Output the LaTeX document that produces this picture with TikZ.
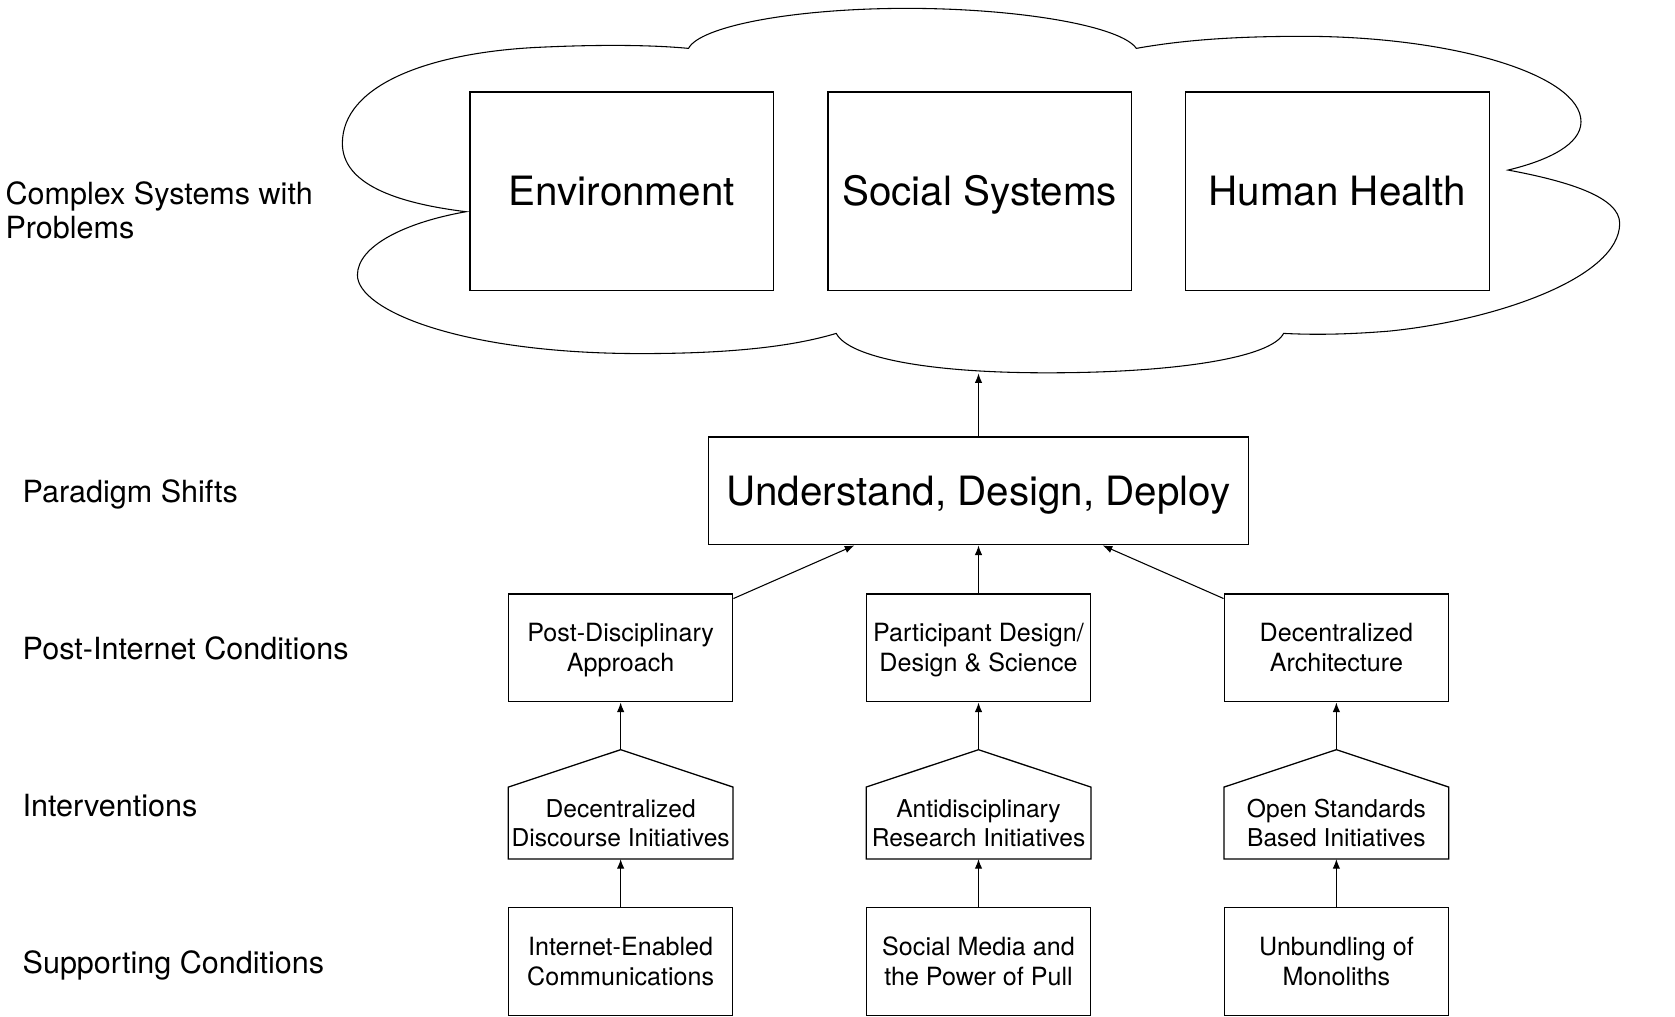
\documentclass[tikz,border=0pt]{standalone}
\usepackage{fontspec}
\setmainfont{TeX Gyre Heros}
\usetikzlibrary{arrows.meta,calc}
% two centred lines, visually centred (cap top to last baseline)
\newcommand{\twolines}[2]{\rule{0pt}{22.9pt}#1\\#2\rule[-6pt]{0pt}{6pt}}
\begin{document}
\begin{tikzpicture}[x=1pt,y=-1pt,
  bigbox/.style={draw,line width=1.2pt,minimum width=284pt,minimum height=186pt,inner sep=0pt,text height=27.1pt,text depth=0pt,font=\fontsize{37.8}{44}\selectfont},
  ubox/.style={draw,line width=1.2pt,minimum width=506pt,minimum height=101pt,inner sep=0pt,text height=27.1pt,text depth=0pt,font=\fontsize{37.8}{44}\selectfont},
  smallbox/.style={draw,line width=1.2pt,minimum width=210pt,minimum height=101pt,inner sep=0pt,align=center,font=\fontsize{23.5}{28}\selectfont},
  intbox/.style={minimum width=210pt,minimum height=67pt,inner sep=0pt,align=center,font=\fontsize{23}{27.5}\selectfont},
  house/.style={draw,line width=1.2pt,line join=miter},
  conn/.style={line width=1pt,-{Latex[length=9pt,width=7pt]}},
  rowlabel/.style={anchor=base west,inner sep=0pt,align=left,font=\fontsize{28.6}{32}\selectfont},
  cloudline/.style={draw,line width=1pt}
]
\fill[white] (0,0) rectangle (1568,952);
\useasboundingbox (0,0) rectangle (1568,952);

% cloud
\draw[cloudline] (436.3,198.2)
 .. controls (370,190) and (320.5,172) .. (320.5,134.2)
 .. controls (320.5,80) and (400,50) .. (500,44.5)
 .. controls (560,41.5) and (610,42) .. (644.5,45.3)
 .. controls (655,25) and (740,8) .. (849,7.8)
 .. controls (958,8) and (1050,25) .. (1063.7,45.3)
 .. controls (1110,37) and (1160,34) .. (1220,34)
 .. controls (1360,34) and (1480,70) .. (1480,114)
 .. controls (1480,135) and (1450,150) .. (1411.7,159.2)
 .. controls (1470,170) and (1516.2,185) .. (1516.2,209.1)
 .. controls (1516.2,260) and (1400,300) .. (1300,310)
 .. controls (1250,314) and (1220,313) .. (1201.6,312.1)
 .. controls (1190,335) and (1100,349) .. (980,349)
 .. controls (870,349) and (795,335) .. (782.8,312.1)
 .. controls (740,325) and (680,331) .. (600,331)
 .. controls (430,331) and (334.6,290) .. (334.6,257.5)
 .. controls (334.6,230) and (380,208) .. (436.3,198.2) -- cycle;
\coordinate (cloudpt) at (916,349.5);

% top boxes
\node[bigbox] (env) at (582,179) {Environment};
\node[bigbox] (soc) at (917,179) {Social Systems};
\node[bigbox] (hum) at (1252,179) {Human Health};

% paradigm
\node[ubox] (u) at (916,459.5) {Understand, Design, Deploy};

% post-internet
\node[smallbox] (p1) at (581,606.5) {\twolines{Post-Disciplinary}{Approach}};
\node[smallbox] (p2) at (916,606.5) {\twolines{Participant Design/}{Design \& Science}};
\node[smallbox] (p3) at (1251,606.5) {\twolines{Decentralized}{Architecture}};

% interventions
\node[intbox] (i1) at (581,770.5) {\twolines{Decentralized}{Discourse Initiatives}};
\node[intbox] (i2) at (916,770.5) {\twolines{Antidisciplinary}{Research Initiatives}};
\node[intbox] (i3) at (1251,770.5) {\twolines{Open Standards}{Based Initiatives}};
\foreach \n in {i1,i2,i3}{
  \coordinate (\n-apex) at ($(\n.north)+(0,-35)$);
  \draw[house] (\n.south west) -- (\n.north west) -- (\n-apex) -- (\n.north east) -- (\n.south east) -- cycle;
}

% supporting
\node[smallbox] (b1) at (581,900) {\twolines{Internet-Enabled}{Communications}};
\node[smallbox] (b2) at (916,900) {\twolines{Social Media and}{the Power of Pull}};
\node[smallbox] (b3) at (1251,900) {\twolines{Unbundling of}{Monoliths}};

% connectors
\draw[conn] (u) -- (cloudpt);
\draw[conn] (p1) -- (u);
\draw[conn] (p2) -- (u);
\draw[conn] (p3) -- (u);
\draw[conn] (i1-apex) -- (p1);
\draw[conn] (i2-apex) -- (p2);
\draw[conn] (i3-apex) -- (p3);
\draw[conn] (b1) -- (i1);
\draw[conn] (b2) -- (i2);
\draw[conn] (b3) -- (i3);

% row labels
\node[rowlabel,anchor=west] (lab1) at (5,197) {Complex Systems with\\Problems};
\node[rowlabel] (lab2) at (21,470) {Paradigm Shifts};
\node[rowlabel] (lab3) at (21,617) {Post-Internet Conditions};
\node[rowlabel] (lab4) at (21,764) {Interventions};
\node[rowlabel] (lab5) at (21,911) {Supporting Conditions};
\end{tikzpicture}
\end{document}
